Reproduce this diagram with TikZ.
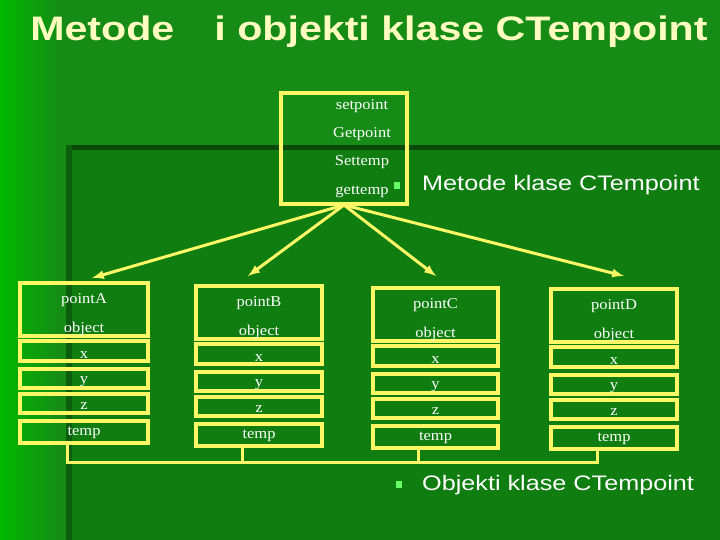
\documentclass[tikz,border=0pt]{standalone}
\usepackage{fontspec}
\setmainfont{Liberation Serif}
\setsansfont{Liberation Sans}
\begin{document}
\begin{tikzpicture}[x=1pt,y=-1pt,
  yb/.style={draw=yellow!60!white, line width=3.5pt},
  ylink/.style={draw=yellow!60!white, line width=3pt},
  lab/.style={text=white, font=\fontsize{15}{17}\selectfont, xscale=1.1},
  bul/.style={fill=green!60!white}]
\definecolor{bgA}{HTML}{168C16}
\definecolor{bgB}{HTML}{0F7D10}
\definecolor{bgL}{HTML}{00B800}
\useasboundingbox (0,0) rectangle (720,540);
\fill[bgA] (0,0) rectangle (720,540);
\shade[left color=bgL, right color=bgA] (0,0) rectangle (60,540);
\fill[bgB] (66,145) rectangle (720,540);
\fill[black!40!bgB] (66,145) rectangle (720,150);
\fill[black!25!bgB] (66,145) rectangle (72,540);
\node[anchor=west, xscale=1.21, text=yellow!25!white, font=\sffamily\bfseries\fontsize{34}{38}\selectfont] (title) at (26,32) {Metode\hspace{0.7em} i objekti klase CTempoint};
% method box
\draw[yb] (281,93) rectangle (407,204);
\node[lab] (m1) at (362,106) {setpoint};
\node[lab] (m2) at (362,134) {Getpoint};
\node[lab] (m3) at (362,162) {Settemp};
\node[lab] (m4) at (362,192) {gettemp};
\coordinate (src) at (344,205);
\fill[bul] (394,182) rectangle (400,189);
\node[anchor=west, xscale=1.2, text=white, font=\sffamily\fontsize{21}{24}\selectfont] (mk) at (418,185) {Metode klase CTempoint};
% objects
\foreach \n/\xa/\xb/\oy in {A/20/148/0, B/196/322/3, C/373/498/5, D/551/677/6}{
  \draw[yb] (\xa,283+\oy) rectangle (\xb,336+\oy);
  \draw[yb] (\xa,341+\oy) rectangle (\xb,361+\oy);
  \draw[yb] (\xa,369+\oy) rectangle (\xb,388+\oy);
  \draw[yb] (\xa,394+\oy) rectangle (\xb,413+\oy);
  \draw[yb] (\xa,421+\oy) rectangle (\xb,443+\oy);
  \node[lab] (h\n) at ({(\xa+\xb)/2},300+\oy) {point\n};
  \node[lab] (o\n) at ({(\xa+\xb)/2},329+\oy) {object};
  \node[lab] (x\n) at ({(\xa+\xb)/2},355+\oy) {x};
  \node[lab] (y\n) at ({(\xa+\xb)/2},382+\oy) {y};
  \node[lab] (z\n) at ({(\xa+\xb)/2},406+\oy) {z};
  \node[lab] (t\n) at ({(\xa+\xb)/2},433+\oy) {temp};
  \coordinate (bot\n) at ({(\xa+\xb)/2-17},444+\oy);
}
\coordinate (aA) at (92,278); \coordinate (aB) at (248,276);
\coordinate (aC) at (436,276); \coordinate (aD) at (624,276);
\foreach \t in {aA,aB,aC,aD} \draw[ylink,-latex] (src) -- (\t);
% bracket
\draw[ylink] (botA) -- (botA|-0,462) -- (botD|-0,462) -- (botD);
\draw[ylink] (botB) -- (botB|-0,462);
\draw[ylink] (botC) -- (botC|-0,462);
\fill[bul] (396,481) rectangle (402,488);
\node[anchor=west, xscale=1.2, text=white, font=\sffamily\fontsize{21}{24}\selectfont] (ok) at (418,485) {Objekti klase CTempoint};
\end{tikzpicture}
\end{document}
